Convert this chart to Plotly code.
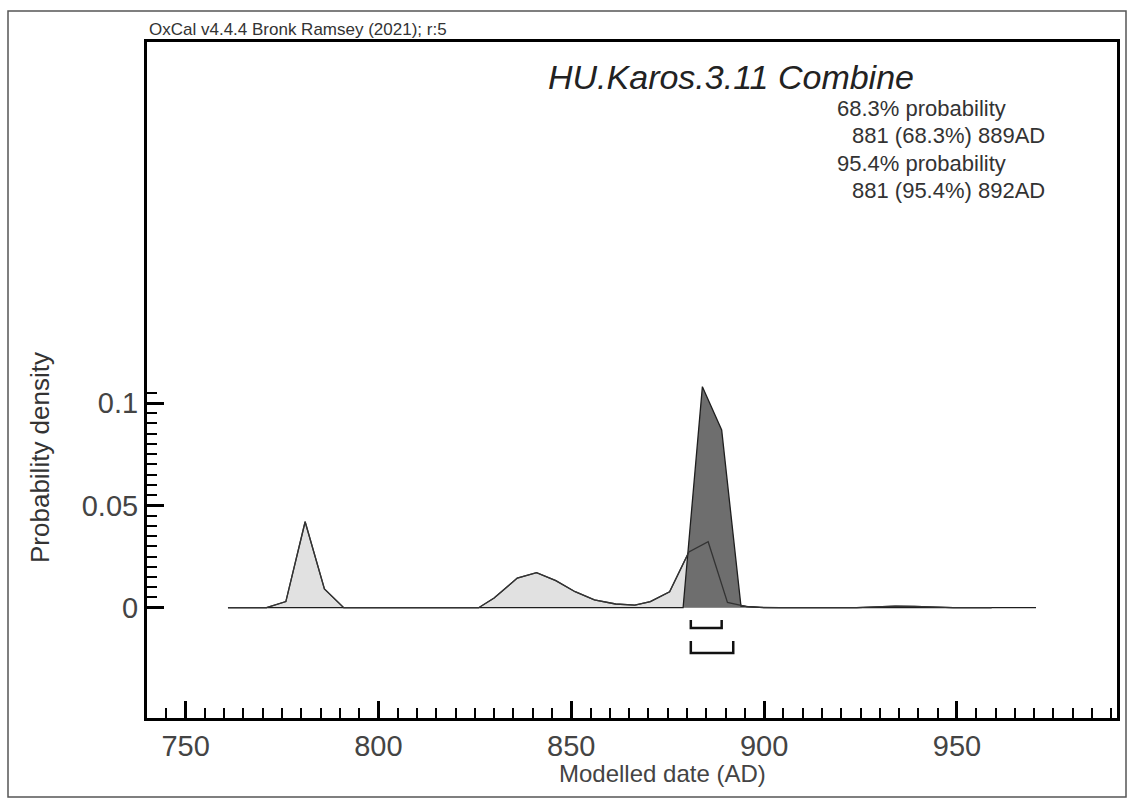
import plotly.graph_objects as go

# ---- data -------------------------------------------------------------
# unmodelled (likelihood) distribution, calendar years AD
light_years = [761, 771, 776, 781, 786, 791, 826, 830, 836, 841, 846, 851, 856,
               861.5, 866.5, 870.5, 875.5, 880.5, 885.5, 890.5, 895.5, 900,
               924, 929, 934, 939, 944, 949, 959]
light_density = [0, 0, 0.003, 0.042, 0.0092, 0, 0, 0.0047, 0.0145, 0.0171, 0.0132,
                 0.0078, 0.0038, 0.0018, 0.0013, 0.003, 0.0078, 0.0272, 0.0322,
                 0.0026, 0.0005, 0, 0, 0.0004, 0.0008, 0.0006, 0.0002, 0, 0]

# modelled (posterior) distribution
dark_years = [761, 879, 884, 889, 894, 899, 904, 970.5]
dark_density = [0, 0, 0.108, 0.0868, 0.0008, 0.0002, 0, 0]

# highest posterior density ranges
range_68 = [881, 889]
range_95 = [881, 892]

x_ticks = [750, 800, 850, 900, 950]
x_minor = [v for v in range(745, 991, 5) if v % 50 != 0]
y_ticks = [0, 0.05, 0.1]
y_tick_text = ["0", "0.05", "0.1"]
y_minor = [round(0.005 * i, 3) for i in range(1, 22) if i % 10 != 0]

# ---- layout geometry (pixels) -----------------------------------------
W, H = 1134, 799
L, R, T, B = 147, 1117, 42, 718
FONT = "Liberation Sans, Arial, sans-serif"


def px(x):
    return (x - L) / (R - L)


def py(y):
    return (B - y) / (B - T)


fig = go.Figure()

# light fill underneath
fig.add_trace(go.Scatter(x=light_years, y=light_density, mode="lines",
                         fill="tozeroy", fillcolor="#e1e1e1",
                         line=dict(color="#3a3a3a", width=1.3),
                         hoverinfo="skip", showlegend=False))
# dark posterior on top
fig.add_trace(go.Scatter(x=dark_years, y=dark_density, mode="lines",
                         fill="tozeroy", fillcolor="#6e6e6e",
                         line=dict(color="#1e1e1e", width=1.3),
                         hoverinfo="skip", showlegend=False))
# light outline drawn again over the posterior
fig.add_trace(go.Scatter(x=light_years, y=light_density, mode="lines",
                         line=dict(color="#333333", width=1.3),
                         hoverinfo="skip", showlegend=False))

# range brackets
for rng, y_bot, y_top in [(range_68, -0.0099, -0.006), (range_95, -0.0221, -0.0163)]:
    fig.add_trace(go.Scatter(x=[rng[0], rng[0], rng[1], rng[1]],
                             y=[y_top, y_bot, y_bot, y_top], mode="lines",
                             line=dict(color="#111111", width=2.5),
                             hoverinfo="skip", showlegend=False))

fig.update_layout(
    width=W, height=H,
    margin=dict(l=L, r=W - R, t=T, b=H - B),
    paper_bgcolor="white", plot_bgcolor="white",
    font=dict(family=FONT, color="#333333"),
    xaxis=dict(range=[740, 991.5], showgrid=False, zeroline=False,
               showline=True, linecolor="black", linewidth=3, mirror=True,
               ticks="inside", tickvals=x_ticks, ticklen=17, tickwidth=2.5,
               tickcolor="black", tickfont=dict(size=29, color="#444444"),
               minor=dict(tickvals=x_minor, ticks="inside", ticklen=10,
                          tickwidth=1.5, tickcolor="black", showgrid=False)),
    yaxis=dict(range=[-0.0539, 0.2764], showgrid=False, zeroline=False,
               showline=True, linecolor="black", linewidth=3, mirror=True,
               ticks="inside", tickvals=y_ticks, ticktext=y_tick_text,
               ticklen=17, tickwidth=2.5, tickcolor="black",
               tickfont=dict(size=29, color="#444444"),
               minor=dict(tickvals=y_minor, ticks="inside", ticklen=10,
                          tickwidth=1.5, tickcolor="black", showgrid=False)),
)

annotations = [
    dict(text="OxCal v4.4.4 Bronk Ramsey (2021); r:5", x=px(147), y=py(30),
         xanchor="left", yanchor="middle", font=dict(size=17, color="#333333")),
    dict(text="<i>HU.Karos.3.11 Combine</i>", x=px(546), y=py(77),
         xanchor="left", yanchor="middle", font=dict(size=34, color="#222222")),
    dict(text="68.3% probability", x=px(835), y=py(108),
         xanchor="left", yanchor="middle", font=dict(size=22, color="#333333")),
    dict(text=f"{range_68[0]} (68.3%) {range_68[1]}AD", x=px(850), y=py(135),
         xanchor="left", yanchor="middle", font=dict(size=22, color="#333333")),
    dict(text="95.4% probability", x=px(835), y=py(163),
         xanchor="left", yanchor="middle", font=dict(size=22, color="#333333")),
    dict(text=f"{range_95[0]} (95.4%) {range_95[1]}AD", x=px(850), y=py(190),
         xanchor="left", yanchor="middle", font=dict(size=22, color="#333333")),
    dict(text="Modelled date (AD)", x=px(662), y=py(773),
         xanchor="center", yanchor="middle", font=dict(size=24, color="#444444")),
    dict(text="Probability density", x=px(40), y=py(458), textangle=-90,
         xanchor="center", yanchor="middle", font=dict(size=26, color="#333333")),
]
for a in annotations:
    a.update(xref="paper", yref="paper", showarrow=False)
fig.update_layout(annotations=annotations)

# thin outer border round the whole figure
fig.add_shape(type="rect", xref="paper", yref="paper",
              x0=px(8), x1=px(1126), y0=py(797), y1=py(11),
              line=dict(color="#555555", width=1.5), layer="below")

fig.write_html("out.html")
